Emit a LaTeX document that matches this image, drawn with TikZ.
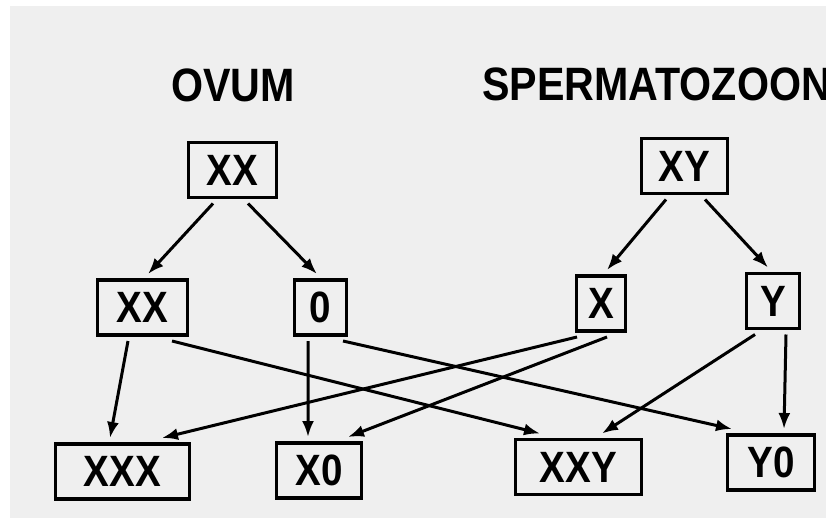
\documentclass[tikz,border=0pt]{standalone}
\usepackage{fontspec}
\newfontfamily\diagfont{Liberation Sans}[FakeStretch=0.88]
\usetikzlibrary{arrows.meta}
\definecolor{bggray}{HTML}{EFEFEF}
\begin{document}
\begin{tikzpicture}[x=1bp,y=-1bp,
  cell/.style={draw,line width=3.5bp,minimum height=55bp,inner sep=0pt,outer sep=6bp,
    font=\diagfont\bfseries\fontsize{44}{44}\selectfont},
  title/.style={inner sep=0pt,font=\diagfont\bfseries\fontsize{47}{47}\selectfont},
  link/.style={line width=3bp,-{Latex[length=16bp,width=12bp]}}]
  \useasboundingbox (0,0) rectangle (826,518);
  \fill[bggray] (10,6) rectangle (826,518);
  % headings
  \node[title] (ovum) at (233,85) {OVUM};
  \node[title,anchor=west] (sperm) at (482,84) {SPERMATOZOON};
  % parents
  \node[cell,minimum width=88bp] (xxtop) at (232.5,170) {XX};
  \node[cell,minimum width=86bp] (xytop) at (684.5,166) {XY};
  % gametes
  \node[cell,minimum width=90bp] (xxmid) at (142.5,307.5) {XX};
  \node[cell,minimum width=52bp] (zero) at (320.5,307.5) {0};
  \node[cell,minimum width=49bp] (xmid) at (601,303.5) {X};
  \node[cell,minimum width=53bp] (ymid) at (773,301) {Y};
  % zygotes
  \node[cell,minimum width=134bp] (xxx) at (122.5,471.5) {XXX};
  \node[cell,minimum width=85bp] (xzero) at (319,470.5) {X0};
  \node[cell,minimum width=126bp] (xxy) at (578.5,467) {XXY};
  \node[cell,minimum width=87bp] (yzero) at (771,462.5) {Y0};
  % meiosis
  \draw[link] ([xshift=-19.5bp]xxtop.south) -- ([xshift=5.5bp]xxmid.north);
  \draw[link] ([xshift=15.5bp]xxtop.south) -- ([xshift=-3.5bp]zero.north);
  \draw[link] ([xshift=-18.5bp]xytop.south) -- ([xshift=6bp]xmid.north);
  \draw[link] ([xshift=20.5bp]xytop.south) -- ([xshift=-5bp]ymid.north);
  % fertilisation
  \draw[link] ([xshift=-14.5bp]xxmid.south) -- ([xshift=-12.5bp]xxx.north);
  \draw[link] ([xshift=29.5bp]xxmid.south) -- ([xshift=-38.5bp]xxy.north);
  \draw[link] ([xshift=-12.5bp]zero.south) -- ([xshift=-11bp]xzero.north);
  \draw[link] ([xshift=22.5bp]zero.south) -- ([xshift=-39bp]yzero.north);
  \draw[link] ([xshift=-24bp]xmid.south) -- ([xshift=39.5bp]xxx.north);
  \draw[link] ([xshift=6bp]xmid.south) -- ([xshift=29bp]xzero.north);
  \draw[link] ([xshift=-18bp]ymid.south) -- ([xshift=23.5bp]xxy.north);
  \draw[link] ([xshift=13bp]ymid.south) -- ([xshift=13bp]yzero.north);
\end{tikzpicture}
\end{document}
